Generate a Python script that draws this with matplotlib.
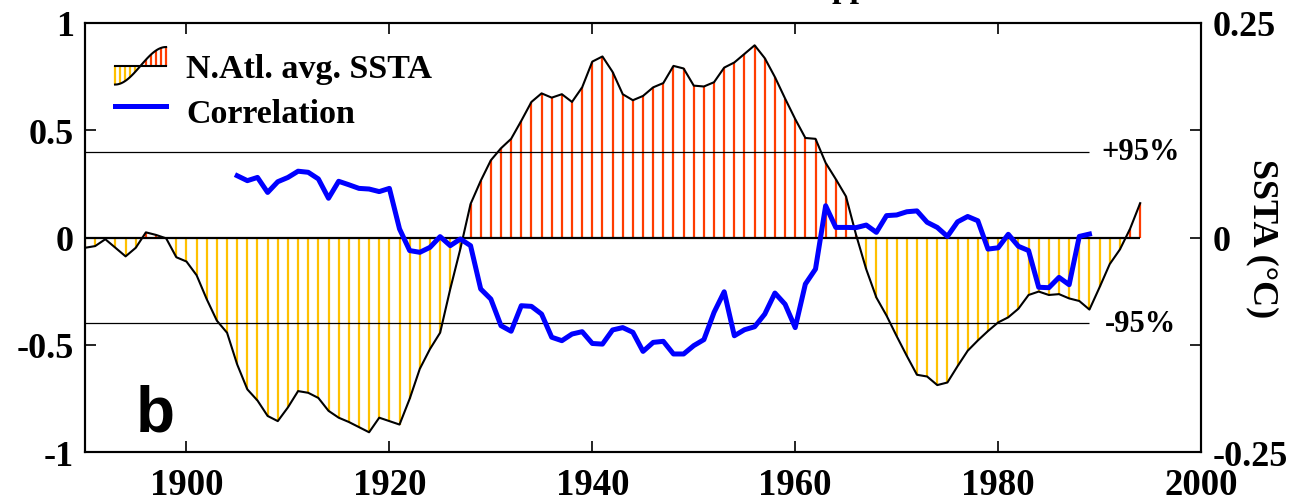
import numpy as np
import matplotlib
matplotlib.use("Agg")
import matplotlib.pyplot as plt
from matplotlib.lines import Line2D
from matplotlib.collections import LineCollection
from matplotlib.legend_handler import HandlerBase

plt.rcParams['font.family'] = ['Liberation Serif', 'DejaVu Serif']
plt.rcParams['font.weight'] = 'bold'
plt.rcParams['font.size'] = 24
plt.rcParams['axes.linewidth'] = 1.5

# N. Atlantic averaged SSTA (deg C), one value per year 1890..1994
years = np.arange(1890, 1995)
ssta = np.array([
    -0.012, -0.010, -0.002, -0.012, -0.022, -0.012, 0.006, 0.003, -0.001, -0.023,
    -0.028, -0.044, -0.072, -0.097, -0.111, -0.148, -0.177, -0.190, -0.208, -0.214,
    -0.198, -0.179, -0.181, -0.187, -0.202, -0.210, -0.215, -0.221, -0.227, -0.210,
    -0.214, -0.218, -0.188, -0.153, -0.130, -0.111, -0.060, -0.013, 0.039, 0.066,
    0.090, 0.104, 0.115, 0.136, 0.158, 0.168, 0.163, 0.167, 0.158, 0.175,
    0.205, 0.211, 0.193, 0.167, 0.160, 0.165, 0.175, 0.180, 0.200, 0.197,
    0.177, 0.176, 0.181, 0.198, 0.204, 0.214, 0.224, 0.209, 0.187, 0.162,
    0.138, 0.116, 0.115, 0.087, 0.068, 0.048, 0.003, -0.037, -0.070, -0.091,
    -0.115, -0.138, -0.160, -0.162, -0.172, -0.169, -0.150, -0.132, -0.120, -0.109,
    -0.099, -0.093, -0.083, -0.067, -0.063, -0.067, -0.066, -0.071, -0.074, -0.084,
    -0.058, -0.031, -0.014, 0.010, 0.040,
])

# running correlation, 1905..1989
corr_years = np.arange(1905, 1990)
corr = np.array([
    0.288, 0.265, 0.280, 0.210, 0.260,
    0.280, 0.309, 0.304, 0.273, 0.183, 0.262, 0.246, 0.229, 0.226, 0.214,
    0.229, 0.040, -0.061, -0.069, -0.046, 0.004, -0.038, -0.007, -0.038, -0.240,
    -0.287, -0.411, -0.437, -0.318, -0.321, -0.357, -0.465, -0.481, -0.450, -0.439,
    -0.494, -0.497, -0.431, -0.420, -0.442, -0.531, -0.489, -0.484, -0.543, -0.543,
    -0.504, -0.476, -0.349, -0.253, -0.458, -0.430, -0.416, -0.357, -0.259, -0.311,
    -0.420, -0.217, -0.147, 0.148, 0.047, 0.047, 0.046, 0.058, 0.024, 0.102,
    0.105, 0.120, 0.124, 0.071, 0.047, 0.005, 0.073, 0.098, 0.078, -0.054,
    -0.048, 0.015, -0.041, -0.061, -0.232, -0.234, -0.186, -0.220, 0.005, 0.016,
])

sig95 = 0.4
year_ticks = [1900, 1920, 1940, 1960, 1980, 2000]
corr_ticks = [-1, -0.5, 0, 0.5, 1]
corr_ticklabels = ["-1", "-0.5", "0", "0.5", "1"]
ssta_ticks = [-0.25, 0, 0.25]
ssta_ticklabels = ["-0.25", "0", "0.25"]

RED = "#ff3c00"
ORANGE = "#ffc000"


class SstaHandler(HandlerBase):
    """Legend icon: sigmoid curve with hatched anomalies."""
    def create_artists(self, legend, orig_handle, xdescent, ydescent,
                       width, height, fontsize, trans):
        x0, y0 = -xdescent, -ydescent
        ymid = y0 + height / 2
        t = np.linspace(0, 1, 50)
        curve = Line2D(x0 + width * t, y0 + height * (0.5 - 0.5 * np.cos(np.pi * t)),
                       color="black", lw=1.5)
        base = Line2D([x0, x0 + width], [ymid, ymid], color="black", lw=1.5)
        th = np.linspace(0, 1, 11)
        segs = [[(x0 + width * a, ymid), (x0 + width * a, y0 + height * (0.5 - 0.5 * np.cos(np.pi * a)))]
                for a in th]
        cols = [RED if a > 0.5 else ORANGE for a in th]
        lc = LineCollection(segs, colors=cols, lw=1.6)
        for a in (lc, base, curve):
            a.set_transform(trans)
        return [lc, base, curve]


fig = plt.figure(figsize=(12.92, 5.02), dpi=100)
ax = fig.add_axes([0.0658, 0.0976, 0.8638, 0.8546])
ax2 = ax.twinx()
ax.set_zorder(ax2.get_zorder() + 1)
ax.patch.set_visible(False)

# SSTA on the right-hand axis
ax2.vlines(years, 0, ssta, colors=np.where(ssta > 0, RED, ORANGE), lw=1.6)
ax2.hlines(0, years[0], years[-1], colors="black", lw=1.6)
ssta_line, = ax2.plot(years, ssta, color="black", lw=1.5, label="N.Atl. avg. SSTA")
ax2.set_ylim(-0.25, 0.25)
ax2.set_yticks(ssta_ticks)
ax2.set_yticklabels(ssta_ticklabels)
ax2.set_yticks([-0.125, 0.125], minor=True)
ax2.tick_params(axis="y", which="both", direction="in", length=8, width=1.2, pad=8,
                labelsize=26)
ax2.set_ylabel("SSTA (°C)", rotation=270, va="center", ha="center",
               fontsize=26, fontweight="bold")
ax2.yaxis.set_label_coords(1.0547, 0.5)

# correlation on the left-hand axis
ax.hlines([sig95, -sig95], years[0], corr_years[-1], colors="black", lw=0.9)
corr_line, = ax.plot(corr_years, corr, color="#0000ff", lw=3.6, label="Correlation")
ax.text(1994, sig95, "+95%", ha="center", va="center", fontsize=22)
ax.text(1994, -sig95, "-95%", ha="center", va="center", fontsize=22)

ax.set_xlim(1890, 2000)
ax.set_ylim(-1, 1)
ax.set_xticks(year_ticks)
ax.set_yticks(corr_ticks)
ax.set_yticklabels(corr_ticklabels)
ax.tick_params(axis="x", direction="in", top=True, length=8, width=1.2, pad=11,
               labelsize=26.5)
ax.tick_params(axis="y", direction="in", right=False, length=8, width=1.2, pad=8,
               labelsize=26)

ax.text(0.063, 0.05, "b", transform=ax.transAxes, ha="center", va="baseline",
        fontsize=46, fontweight="bold", family="Liberation Sans")

ax.legend([ssta_line, corr_line], ["N.Atl. avg. SSTA", "Correlation"],
          handler_map={ssta_line: SstaHandler()},
          loc="upper left", bbox_to_anchor=(0.0269, 0.944), frameon=False,
          borderpad=0, borderaxespad=0, handlelength=1.5, handleheight=1.32,
          handletextpad=0.6, labelspacing=0.2, fontsize=24.5)

# cut-off title fragment at the top edge
fig.text(0.658, 1.006, "pp", ha="center", va="baseline", fontsize=24)

fig.savefig("out.png", dpi=100)
